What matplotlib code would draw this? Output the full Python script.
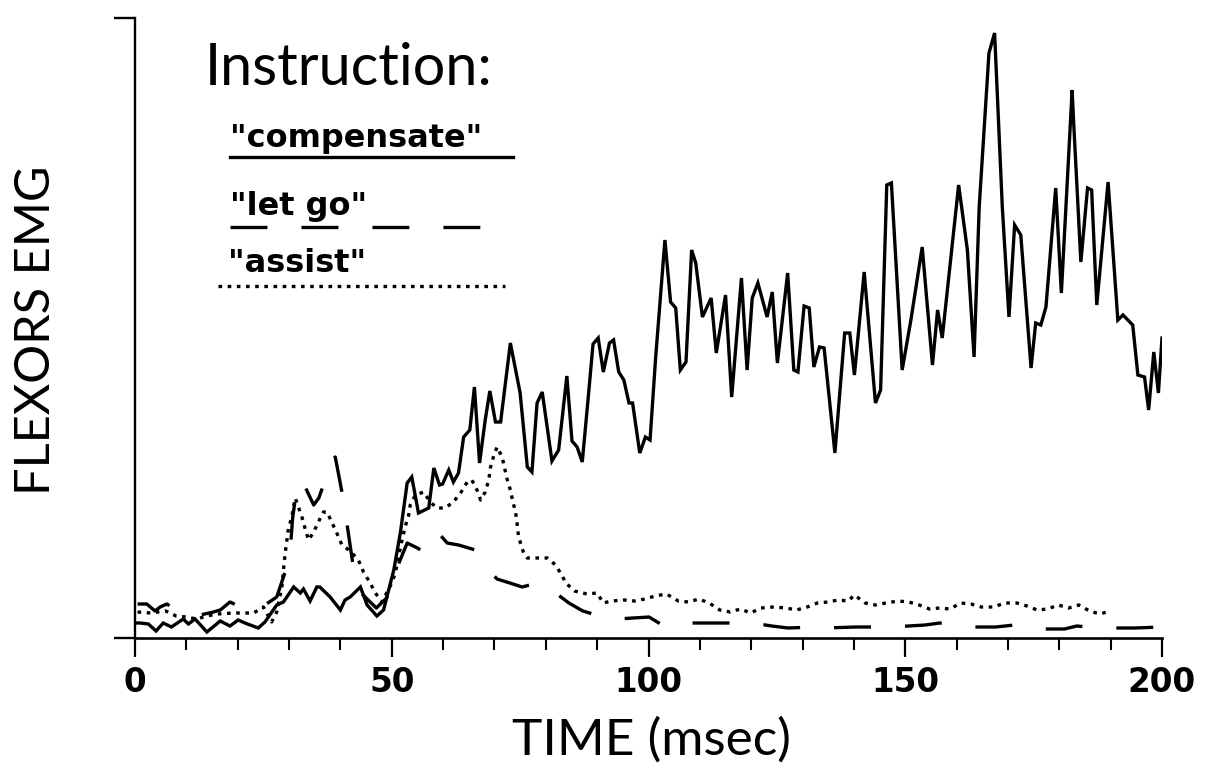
import matplotlib
matplotlib.use("Agg")
import matplotlib.pyplot as plt
from matplotlib.lines import Line2D
from matplotlib.ticker import MultipleLocator

plt.rcParams['lines.scale_dashes'] = False

# ---------------- data (time in msec, EMG in arbitrary units) ----------------
comp_t = [0.5, 1, 2.6, 4.1, 5.5, 7.1, 9.4, 10.4, 11.7, 14, 16.6, 18.5, 20.1, 21.4, 24, 25.3,
          27.6, 28.9, 30.9, 32.2, 32.8, 34.1, 35.4, 36, 38, 40, 40.9, 41.9, 43.9, 45.2, 47.1,
          48.4, 50.4, 51.7, 53, 53.9, 55.2, 57.2, 58.2, 59.3, 59.9, 61.1, 62, 63, 64, 65.2,
          66.1, 67.1, 68.2, 69.1, 70.2, 71.2, 73.1, 75, 76.4, 77.3, 78.3, 79.3, 81.2, 82.5,
          84.1, 85.1, 86.1, 87.1, 88.2, 89.2, 90.2, 91.2, 92.4, 93.2, 94.2, 95.2, 96.2, 96.9,
          98.3, 99.4, 100.3, 101.4, 103.2, 104.3, 105.3, 106.2, 107.3, 108.4, 109.2, 110.5,
          112.2, 113.2, 115, 116.2, 118.1, 119.2, 120.2, 121.3, 123.1, 124.1, 125.1, 127.1,
          128.3, 129.1, 130.3, 131.3, 132.2, 133.3, 134.2, 136.3, 138.2, 139.2, 140.1, 142,
          144.2, 145.2, 146.4, 147.3, 149.4, 151.1, 153.3, 155.3, 156.3, 157.2, 160.4, 162.1,
          163.4, 164.4, 166.3, 167.4, 168.9, 170.2, 171.3, 172.5, 174.5, 175.4, 176.4, 177.4,
          179.3, 180.4, 182.5, 182.8, 184.2, 185.5, 186.3, 187.3, 189.5, 191.4, 192.4, 194.3,
          195.3, 196.6, 197.4, 198.4, 199.3, 200]
comp_v = [15, 15, 14, 7, 15, 11, 19, 14, 19, 6, 17, 12, 18, 15, 10, 16,
          33, 36, 51, 45, 49, 37, 51, 51, 41, 28, 38, 41, 51, 33, 22,
          28, 68, 106, 155, 161, 125, 130, 170, 153, 154, 168, 156, 165, 201, 208,
          251, 175, 218, 247, 216, 216, 295, 245, 171, 166, 235, 246, 177, 188,
          262, 197, 191, 176, 237, 294, 300, 266, 295, 298, 266, 258, 235, 235,
          185, 201, 198, 281, 398, 336, 330, 268, 276, 388, 375, 321,
          340, 285, 343, 241, 360, 268, 340, 355, 321, 346, 275, 365,
          268, 266, 332, 330, 271, 291, 290, 185, 305, 305, 263, 366,
          235, 248, 453, 455, 268, 318, 391, 273, 328, 300, 453, 388,
          281, 431, 585, 605, 431, 321, 413, 403, 270, 315, 313, 331,
          450, 345, 548, 515, 376, 450, 448, 333, 456, 318, 323, 313,
          263, 261, 228, 286, 245, 300]

letgo_t = [0.5, 2.3, 3.9, 4.9, 6.2, 7.1, 9, 11, 12.7, 15.3, 16.6, 18.5, 21, 23, 25.3, 27.6,
           29.5, 30.2, 30.7, 31.5, 32.5, 34.8, 35.8, 36.7, 38, 39, 40.3, 41.4, 42.4, 43.5,
           45, 47, 49, 51, 53, 55, 56.5, 59.1, 60.8, 63, 66.3, 68.6, 70.5, 73, 75.4, 78.3,
           81.9, 84.5, 87.2, 91.2, 94, 97, 100.1, 103, 104.6, 107, 113.4, 120.3, 124, 127.2,
           132.5, 134.1, 140.5, 147.4, 153.9, 156.7, 160.8, 167.6, 171.3, 174.5, 181, 183.4,
           187.9, 194.7, 200]
letgo_v = [34, 34, 27, 31, 34, 31, 28, 24, 23, 26, 28, 36, 30, 30, 33, 41,
           70, 86, 120, 150, 158, 133, 140, 153, 178, 181, 146, 110, 75, 48,
           40, 30, 40, 70, 95, 90, 85, 105, 95, 93, 88, 70, 59, 55, 51, 55,
           45, 35, 27, 21, 19, 20, 21, 12, 15, 15, 15, 15, 12, 10,
           11, 10, 11, 11, 13, 15, 11, 11, 13, 9, 9, 12,
           10, 10, 11]

assist_t = [0.5, 3, 6, 8, 10, 12, 14, 16, 19.2, 23.1, 25, 26.6, 27.6, 28.6, 29.2, 29.9, 30.5,
            31.2, 32.5, 33.1, 33.8, 34.8, 35.7, 36.7, 37.4, 38.3, 39.3, 40.3, 41.9, 43.5,
            44.5, 45.8, 46.8, 48.1, 49, 50, 50.7, 51.3, 52, 52.6, 53.3, 53.6, 54.6, 56.2,
            57.5, 58.8, 60.4, 62, 63.4, 64.7, 65.6, 66.6, 67.3, 68.2, 68.9, 69.2, 69.8, 70.5,
            71.5, 72.4, 73.1, 73.6, 74.1, 74.4, 74.7, 75.7, 76.4, 78, 80.3, 81.9, 83.1, 83.9,
            85.6, 88, 90, 91.2, 92.8, 95.3, 97.3, 99.3, 101.3, 103.5, 105.8, 107.8, 109.8,
            111.8, 113.9, 115.9, 117.9, 119.9, 121.9, 124.4, 126.8, 128.8, 130.9, 132.9,
            134.9, 136.9, 138.9, 140.1, 142.2, 144.2, 146.2, 148.6, 150.7, 152.7, 154.7,
            156.7, 158.7, 160.8, 162.8, 164.8, 167.3, 169.3, 171.7, 173.7, 175.7, 177.7,
            179.8, 181.8, 183.8, 185.9, 187.9, 189.9]
assist_v = [26, 25, 27, 22, 21, 19, 22, 24, 25, 25, 31, 16, 26, 51, 83, 110, 120,
            140, 121, 110, 98, 106, 116, 126, 126, 116, 105, 93, 87, 78,
            66, 55, 45, 36, 45, 55, 65, 81, 98, 111, 123, 133, 143, 146,
            136, 130, 130, 136, 145, 156, 158, 148, 138, 146, 158, 170, 181, 191,
            181, 160, 148, 136, 126, 115, 101, 85, 80, 80, 80, 73, 63, 55,
            47, 44, 45, 35, 37, 38, 37, 39, 42, 44, 37, 36, 39,
            35, 28, 26, 29, 25, 30, 31, 30, 28, 31, 35,
            36, 38, 37, 43, 35, 33, 35, 37, 36, 33, 29,
            30, 29, 35, 34, 31, 31, 35, 35, 32, 28, 29,
            33, 30, 33, 27, 24, 27]

legend_title = "Instruction:"
legend_labels = ['"compensate"', '"let go"', '"assist"']
x_label = "TIME (msec)"
y_label = "FLEXORS EMG"
x_ticks = [0, 50, 100, 150, 200]

# ---------------- figure ----------------
W, H = 1206, 774
fig = plt.figure(figsize=(W / 100, H / 100), dpi=100)
fig.patch.set_facecolor('white')

def fx(px):
    return px / W

def fy(py):
    return 1 - py / H

ax = fig.add_axes([fx(135), fy(638), fx(1162) - fx(135), fy(18) - fy(638)])
ax.set_xlim(0, 200)
ax.set_ylim(0, 620)

LW = 2.4
DASH = (0, (26.6, 24.5))
DOT = (0, (2.6, 4.0))

ax.plot(comp_t, comp_v, color='black', lw=LW, solid_joinstyle='miter')
ax.plot(letgo_t, letgo_v, color='black', lw=LW, linestyle=DASH)
ax.plot(assist_t, assist_v, color='black', lw=LW, linestyle=DOT)

for s in ['top', 'right']:
    ax.spines[s].set_visible(False)
ax.spines['left'].set_linewidth(1.7)
ax.spines['bottom'].set_linewidth(1.9)

ax.set_xticks(x_ticks)
ax.set_xticklabels([str(t) for t in x_ticks])
ax.xaxis.set_minor_locator(MultipleLocator(10))
ax.tick_params(axis='x', which='major', length=14, width=1.6, direction='out', pad=6,
               labelsize=23.5)
ax.tick_params(axis='x', which='minor', length=8.5, width=1.5, direction='out')
for lab in ax.get_xticklabels():
    lab.set_fontfamily('DejaVu Sans')
    lab.set_fontweight('bold')

ax.set_yticks([0, 620])
ax.set_yticklabels([])
ax.tick_params(axis='y', which='major', length=15, width=1.7, direction='out')

# axis labels
fig.text(fx(652), fy(755), x_label, ha='center', va='baseline',
         family='Lato', weight='normal', fontsize=37)
fig.text(fx(50), fy(330), y_label, ha='center', va='baseline', rotation=90,
         rotation_mode='anchor', family='Lato', weight='normal', fontsize=35)

# legend (drawn manually: label text sits above its line sample)
fig.text(fx(205), fy(85), legend_title, ha='left', va='baseline',
         family='Lato', weight='normal', fontsize=41.5)

styles = ['-', DASH, DOT]
text_pos = [(230, 147), (230, 215), (228, 272)]
line_pos = [(230, 513, 157), (230, 482, 227), (218, 505, 286)]
for lab, ls, (tx, ty), (x0, x1, ly) in zip(legend_labels, styles, text_pos, line_pos):
    fig.text(fx(tx), fy(ty), lab, ha='left', va='baseline',
             family='DejaVu Sans', weight='bold', fontsize=23)
    fig.add_artist(Line2D([fx(x0), fx(x1)], [fy(ly), fy(ly)], color='black', lw=LW,
                          linestyle=ls, transform=fig.transFigure))

fig.savefig('out.png', dpi=100, facecolor='white')
